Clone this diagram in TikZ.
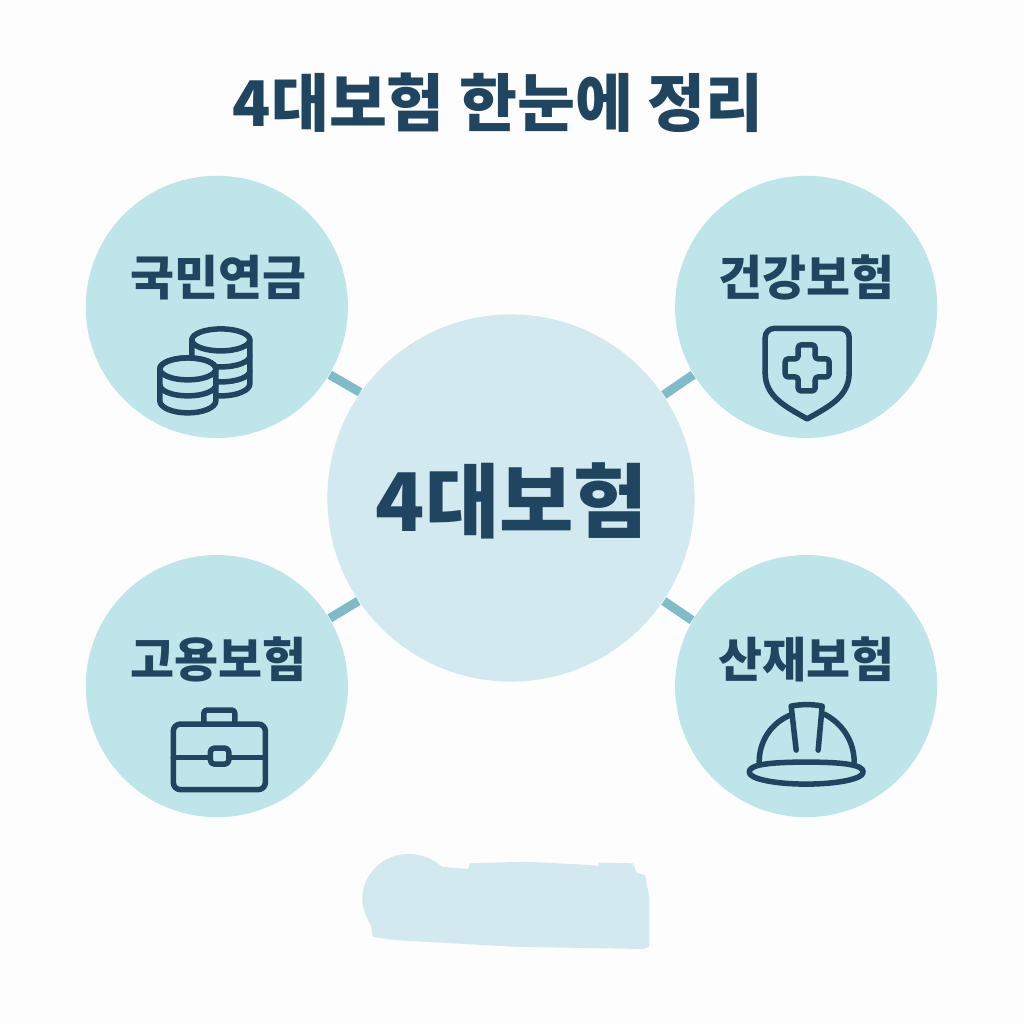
\documentclass[tikz,border=0pt]{standalone}
\usepackage{fontspec}
\usepackage{xcolor}
\newfontfamily\cjk{Noto Sans CJK KR}
\definecolor{ink}{HTML}{1F4560}
\definecolor{petal}{HTML}{BEE5E9}
\definecolor{core}{HTML}{D1E9EF}
\definecolor{spoke}{HTML}{7FBBC9}
\definecolor{paper}{HTML}{FDFDFD}
\usetikzlibrary{positioning}

\begin{document}
\begin{tikzpicture}[x=0.01cm, y=-0.01cm, on grid, font=\cjk\bfseries,
    hub/.style={circle, fill=core, minimum size=3.67cm, inner sep=0pt},
    petalnode/.style={circle, fill=petal, minimum size=2.62cm, inner sep=0pt},
    tag/.style={text=ink, inner sep=0pt, font=\cjk\bfseries\fontsize{13.6}{14}\selectfont},
    spokeline/.style={draw=spoke, line width=0.09cm},
    icon/.style={draw=ink, line width=0.055cm, line join=round, line cap=round}]
  \useasboundingbox (0,0) rectangle (1024,1024);
  \fill[paper] (0,0) rectangle (1024,1024);
  \node[text=ink, inner sep=0pt, font=\cjk\bfseries\fontsize{17.9}{18}\selectfont] (title) at (498,103) {4대보험 한눈에 정리};
  \node[hub] (hub) at (511,498) {};
  \node[text=ink, inner sep=0pt, font=\cjk\bfseries\fontsize{23}{24}\selectfont] (hubtag) at (512,501) {4대보험};
  \node[petalnode, above left=1.91cm and 2.94cm of hub] (pension) {};
  \node[petalnode, above right=1.91cm and 2.95cm of hub] (health) {};
  \node[petalnode, below left=1.88cm and 2.94cm of hub] (employ) {};
  \node[petalnode, below right=1.88cm and 2.95cm of hub] (accident) {};
  \node[tag, above=0.29cm of pension, xshift=0.02cm] (pensiontag) {국민연금};
  \node[tag, above=0.29cm of health] (healthtag) {건강보험};
  \node[tag, above=0.27cm of employ, xshift=0.02cm] (employtag) {고용보험};
  \node[tag, above=0.27cm of accident] (accidenttag) {산재보험};
  \draw[spokeline] (hub.145) -- (pension.-31);
  \draw[spokeline] (hub.34) -- (health.211);
  \draw[spokeline] (hub.214) -- (employ.31);
  \draw[spokeline] (hub.-34) -- (accident.150);
  % coins
  \begin{scope}[shift={(pension)}]
    \draw[icon] (-25,33) -- (-25,77) arc[start angle=180, end angle=0, x radius=29, y radius=12] -- (33,33);
    \draw[icon] (4,33) ellipse[x radius=29, y radius=11];
    \draw[icon] (-25,49) arc[start angle=180, end angle=0, x radius=29, y radius=11];
    \draw[icon] (-25,64) arc[start angle=180, end angle=0, x radius=29, y radius=11];
    \draw[icon, fill=petal] (-57,62) -- (-57,94) arc[start angle=180, end angle=0, x radius=28, y radius=12] -- (-1,62) arc[start angle=0, end angle=-180, x radius=28, y radius=11] -- cycle;
    \draw[icon] (-29,62) ellipse[x radius=28, y radius=11];
    \draw[icon] (-57,78) arc[start angle=180, end angle=0, x radius=28, y radius=11];
  \end{scope}
  % shield
  \begin{scope}[shift={(health)}]
    \draw[icon, rounded corners=0.09cm] (-41,66) -- (-41,21.5) -- (43,21.5) -- (43,66);
    \draw[icon] (-41,66) .. controls (-41,90) and (-20,100) .. (1,112) .. controls (22,100) and (43,90) .. (43,66);
    \draw[icon, rounded corners=0.03cm] (-8,38) -- (9,38) -- (9,52) -- (23,52) -- (23,70) -- (9,70) -- (9,84) -- (-8,84) -- (-8,70) -- (-21,70) -- (-21,52) -- (-8,52) -- cycle;
  \end{scope}
  % briefcase
  \begin{scope}[shift={(employ)}]
    \draw[icon, rounded corners=0.03cm] (-13,38) -- (-13,24) -- (18,24) -- (18,38);
    \draw[icon, rounded corners=0.07cm] (-43.5,38) rectangle (48.5,103.5);
    \draw[icon] (-43.5,71.5) -- (48.5,71.5);
    \draw[icon, fill=petal, rounded corners=0.04cm] (-6.5,62) rectangle (12,78);
  \end{scope}
  % helmet
  \begin{scope}[shift={(accident)}]
    \draw[icon] (-47,76) .. controls (-47,55) and (-35,37) .. (-16,29);
    \draw[icon] (48,76) .. controls (48,55) and (36,37) .. (18,28);
    \draw[icon] (-10,64) -- (-15,20) .. controls (-5,18) and (6,18) .. (16,20) -- (12,64);
    \draw[icon] (-57,86) .. controls (-57,79) and (-40,76) .. (0,76) .. controls (40,76) and (57,79) .. (57,86) .. controls (57,93) and (30,98) .. (0,98) .. controls (-30,98) and (-57,93) .. (-57,86) -- cycle;
  \end{scope}
  % patch below the hub
  \fill[core] (372.7,936.7) -- (370.7,925) .. controls (365,915) and (362,906) .. (362.3,898) .. controls (363,872) and (385,854) .. (408,854) .. controls (422,854) and (433,859) .. (441.7,866.7) -- (468,869) -- (470,863.3) -- (525,861.7) -- (590,865) -- (598,866) -- (598,862.7) -- (633,863.3) -- (636.7,873) -- (645,875) -- (649.3,896.7) -- (649.3,946.7) -- (643,949) -- (513,946.7) -- (395,940) -- cycle;
\end{tikzpicture}
\end{document}
